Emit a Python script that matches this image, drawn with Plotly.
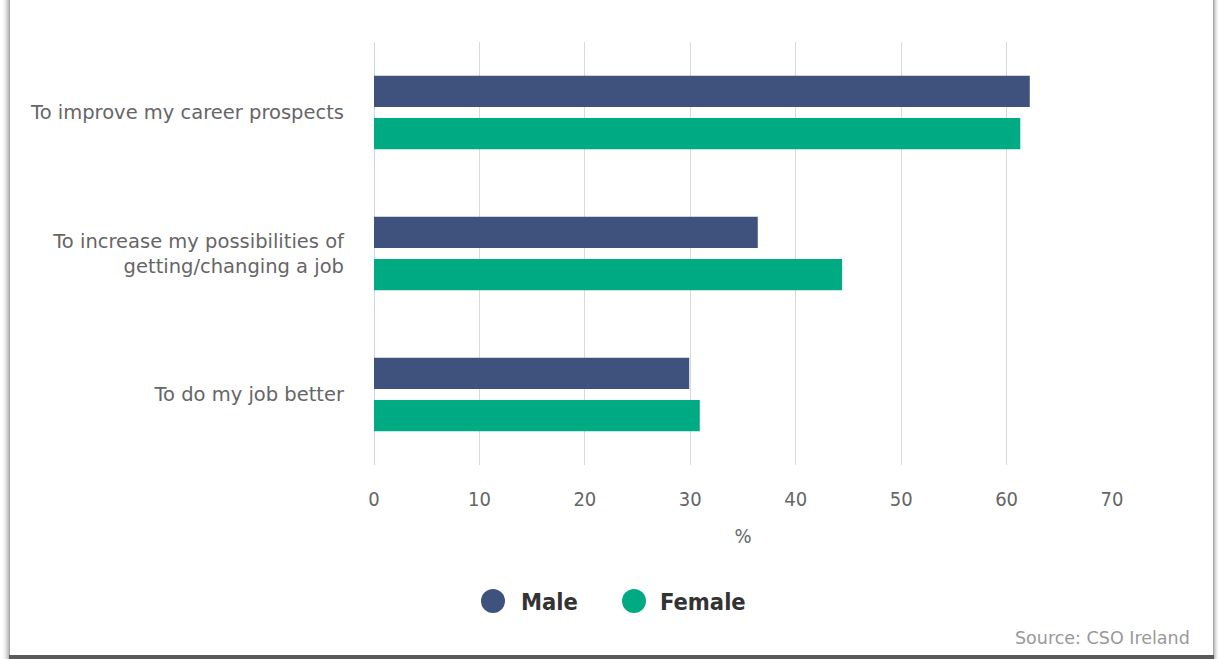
import plotly.graph_objects as go

categories = ["To improve my career prospects",
              "To increase my possibilities of<br>getting/changing a job",
              "To do my job better"]
male = [62.2, 36.4, 29.9]
female = [61.3, 44.4, 30.9]
x_ticks = [0, 10, 20, 30, 40, 50, 60, 70]
series_names = ["Male", "Female"]
colors = ["#3f527e", "#00ab84"]

W, H = 1220, 659
L, R, T, B = 374, 1112, 42, 465  # plot area in pixels

def px(x):
    return (x - L) / (R - L)

def py(y):
    return (B - y) / (B - T)

fig = go.Figure()
for name, vals, col in zip(series_names, [male, female], colors):
    fig.add_trace(go.Bar(y=categories, x=vals, orientation="h", name=name,
                         marker=dict(color=col, line=dict(width=0)),
                         showlegend=False))

shapes = []
# card shadow edges
for i, c in enumerate(["#f7f7f7", "#f0f0f0", "#e6e6e6", "#dadada", "#cccccc", "#bcbcbc", "#aaaaaa"]):
    x0 = 3 + i
    shapes.append(dict(type="rect", xref="paper", yref="paper",
                       x0=px(x0), x1=px(x0 + 1), y0=py(659), y1=py(0),
                       fillcolor=c, line=dict(width=0), layer="above"))
for i, c in enumerate(["#aaaaaa", "#c4c4c4", "#d8d8d8", "#e8e8e8", "#f4f4f4"]):
    x0 = 1213 + i
    shapes.append(dict(type="rect", xref="paper", yref="paper",
                       x0=px(x0), x1=px(x0 + 1), y0=py(659), y1=py(0),
                       fillcolor=c, line=dict(width=0), layer="above"))
shapes.append(dict(type="rect", xref="paper", yref="paper",
                   x0=px(9), x1=px(1214), y0=py(659), y1=py(655),
                   fillcolor="#5a5a5a", line=dict(width=0), layer="above"))

# legend circles
legend_pos = [(493, 519), (634, 658)]
annotations = []
for (cx, tx), name, col in zip(legend_pos, series_names, colors):
    shapes.append(dict(type="circle", xref="paper", yref="paper",
                       x0=px(cx - 12), x1=px(cx + 12), y0=py(601 + 12), y1=py(601 - 12),
                       fillcolor=col, line=dict(width=0)))
    annotations.append(dict(xref="paper", yref="paper", x=px(tx), y=py(602),
                            xanchor="left", yanchor="middle", showarrow=False,
                            text="<b>%s</b>" % name,
                            font=dict(family="DejaVu Sans Condensed, DejaVu Sans", size=23.5, color="#333333")))

annotations.append(dict(xref="paper", yref="paper", x=px(1192), y=py(638),
                        xanchor="right", yanchor="middle", showarrow=False,
                        text="Source: CSO Ireland",
                        font=dict(family="DejaVu Sans", size=17.5, color="#999999")))

fig.update_layout(
    width=W, height=H,
    margin=dict(l=L, r=W - R, t=T, b=H - B, pad=0),
    paper_bgcolor="white", plot_bgcolor="white",
    barmode="group", bargap=0.40, bargroupgap=0.262,
    shapes=shapes, annotations=annotations,
    showlegend=False,
    xaxis=dict(range=[0, 70], tickvals=x_ticks, showgrid=True, gridcolor="#dadada",
               gridwidth=1, zeroline=True, zerolinecolor="#ccd6eb", zerolinewidth=1,
               showline=False, ticks="", ticklabelstandoff=20,
               tickfont=dict(family="DejaVu Sans Condensed, DejaVu Sans", size=20, color="#666666"),
               title=dict(text="%", standoff=18,
                          font=dict(family="DejaVu Sans Condensed, DejaVu Sans", size=20, color="#666666")),
               fixedrange=True, automargin=False),
    yaxis=dict(autorange="reversed", categoryorder="array", categoryarray=categories,
               showgrid=False, zeroline=False, showline=False, ticks="",
               ticklabelstandoff=29,
               tickfont=dict(family="DejaVu Sans", size=19.5, color="#666666"),
               automargin=False, fixedrange=True),
)

fig.write_html("out.html")
